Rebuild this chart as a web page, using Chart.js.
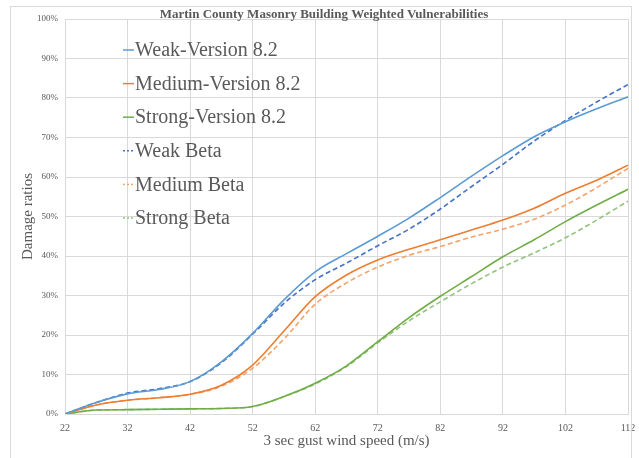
<!DOCTYPE html>
<html>
<head>
<meta charset="utf-8">
<script src="https://cdn.jsdelivr.net/npm/chart.js@4"></script>
<style>
  body { margin: 0; background: #fff; }
  #wrap { position: relative; width: 639px; height: 458px; }
  #frame { position: absolute; left: 10px; top: 6px; width: 622px; height: 460px; border: 1px solid #d9d9d9; box-sizing: border-box; }
</style>
</head>
<body>
<div id="wrap">
  <div id="frame"></div>
  <canvas id="vuln_chart" width="639" height="458"></canvas>
</div>
<script>
// wind speed (m/s)
var speeds = [22, 27, 32, 37, 42, 47, 52, 57, 62, 67, 72, 77, 82, 87, 92, 97, 102, 107, 112];

// damage ratio, percent
var weakV82     = [0, 2.9, 5.1, 6.2, 8.2, 13.2, 20.4, 28.9, 36.0, 40.6, 45.0, 49.6, 54.8, 60.2, 65.4, 70.2, 74.0, 77.3, 80.3];
var mediumV82   = [0, 2.3, 3.5, 4.1, 5.0, 7.3, 12.4, 21.0, 29.7, 35.2, 39.0, 41.7, 44.1, 46.6, 49.1, 52.1, 55.9, 59.2, 63.0];
var strongV82   = [0, 1.0, 1.1, 1.2, 1.3, 1.4, 1.9, 4.4, 7.8, 12.2, 18.3, 24.4, 29.8, 34.8, 39.8, 44.1, 48.7, 52.9, 56.9];
var weakBeta    = [0, 2.9, 5.3, 6.4, 8.2, 13.0, 20.2, 28.0, 34.0, 38.2, 42.6, 46.8, 51.9, 57.6, 63.2, 69.1, 74.3, 79.0, 83.4];
var mediumBeta  = [0, 2.3, 3.5, 4.1, 5.0, 7.0, 11.6, 19.0, 27.8, 33.2, 37.2, 40.2, 42.4, 44.8, 46.8, 49.3, 52.9, 57.3, 62.2];
var strongBeta  = [0, 1.0, 1.1, 1.2, 1.3, 1.4, 1.9, 4.4, 7.6, 12.0, 18.0, 23.6, 28.4, 33.0, 37.2, 40.8, 44.6, 49.1, 53.9];

var seriesNames = ["Weak-Version 8.2", "Medium-Version 8.2", "Strong-Version 8.2", "Weak Beta", "Medium Beta", "Strong Beta"];
var chartTitle = "Martin County Masonry Building Weighted Vulnerabilities";

function pts(vals) {
    return vals.map(function(v, i) { return {x: speeds[i], y: v}; });
}

var serif = "'Liberation Serif', 'Times New Roman', serif";
var textGray = "#595959";

// title + legend drawn inside the plot like the excel original
var overlay = {
    id: 'overlay',
    afterDraw: function(chart) {
        var ctx = chart.ctx;
        ctx.save();
        ctx.fillStyle = textGray;
        ctx.font = "bold 13px " + serif;
        ctx.textAlign = "center";
        ctx.textBaseline = "middle";
        ctx.fillText(chartTitle, 324, 15);

        ctx.font = "20px " + serif;
        ctx.textAlign = "left";
        chart.data.datasets.forEach(function(ds, i) {
            var y = 50 + i * 33.6;
            ctx.strokeStyle = ds.borderColor;
            ctx.lineWidth = 1.5;
            ctx.setLineDash(ds.borderDash ? [2, 2] : []);
            ctx.beginPath();
            ctx.moveTo(123, y);
            ctx.lineTo(134, y);
            ctx.stroke();
            ctx.setLineDash([]);
            ctx.fillText(ds.label, 135, y + 1);
        });
        ctx.restore();
    }
};

var ctx = document.getElementById('vuln_chart');
var chart = new Chart(ctx, {
    type: 'line',
    data: {
        datasets: [
            { label: seriesNames[0], data: pts(weakV82),   borderColor: "#5B9BD5" },
            { label: seriesNames[1], data: pts(mediumV82), borderColor: "#ED7D31" },
            { label: seriesNames[2], data: pts(strongV82), borderColor: "#70AD47" },
            { label: seriesNames[3], data: pts(weakBeta),   borderColor: "#4472C4", borderDash: [5, 3] },
            { label: seriesNames[4], data: pts(mediumBeta), borderColor: "#F4A36B", borderDash: [5, 3] },
            { label: seriesNames[5], data: pts(strongBeta), borderColor: "#93C47D", borderDash: [5, 3] }
        ]
    },
    options: {
        responsive: false,
        animation: false,
        devicePixelRatio: 1,
        layout: { padding: { left: 0, right: 11, top: 19, bottom: 0 } },
        elements: {
            line: { borderWidth: 1.6, cubicInterpolationMode: 'monotone', fill: false },
            point: { radius: 0 }
        },
        plugins: {
            legend: { display: false },
            tooltip: { enabled: false }
        },
        scales: {
            x: {
                type: 'linear',
                min: 22, max: 112,
                border: { color: "#d9d9d9" },
                grid: { color: "#d9d9d9", drawTicks: false },
                ticks: { stepSize: 10, padding: 8, color: textGray, font: { family: serif, size: 10 } },
                title: { display: true, text: "3 sec gust wind speed (m/s)", color: textGray,
                         font: { family: serif, size: 15 }, padding: { top: 0, bottom: 8 } },
                afterFit: function(s) { s.height = 44; s.paddingLeft = 0; s.paddingRight = 0; }
            },
            y: {
                min: 0, max: 100,
                border: { color: "#d9d9d9" },
                grid: { color: "#d9d9d9", drawTicks: false },
                ticks: { stepSize: 10, padding: 7, color: textGray, font: { family: serif, size: 9 },
                         callback: function(v) { return v + "%"; } },
                title: { display: true, text: "Damage ratios", color: textGray,
                         font: { family: serif, size: 15 }, padding: { top: 19, bottom: 0 } },
                afterFit: function(s) { s.width = 65; s.paddingTop = 0; s.paddingBottom = 0; }
            }
        }
    },
    plugins: [overlay]
});
</script>
</body>
</html>
